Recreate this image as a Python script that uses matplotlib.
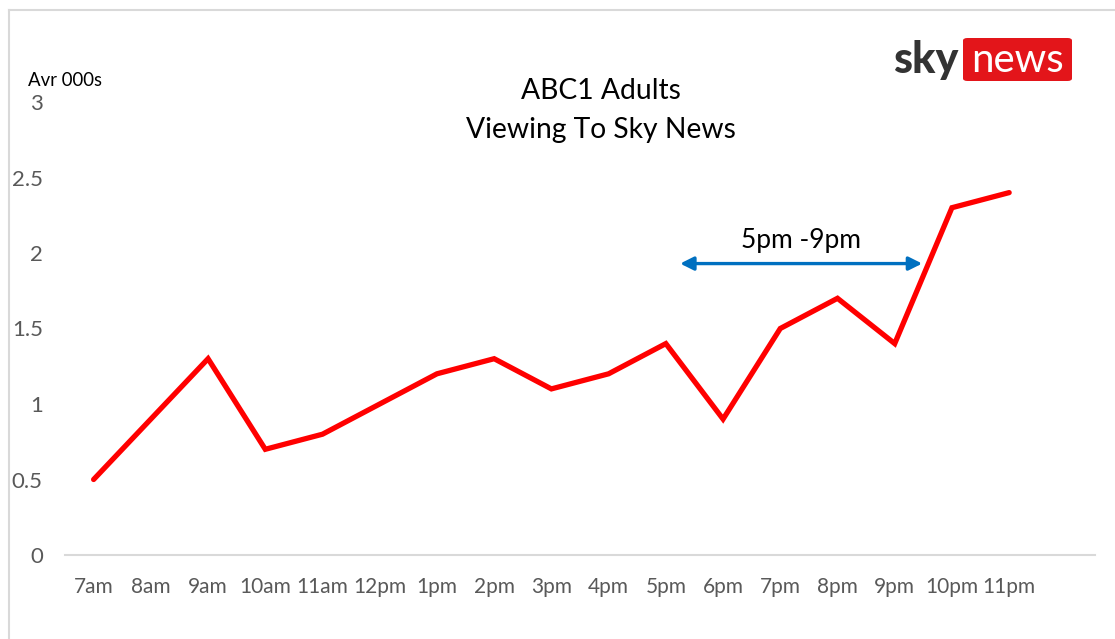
import matplotlib
matplotlib.use("Agg")
import matplotlib.pyplot as plt
from matplotlib.patches import FancyBboxPatch
from matplotlib.lines import Line2D

hours = ["7am", "8am", "9am", "10am", "11am", "12pm", "1pm", "2pm", "3pm",
         "4pm", "5pm", "6pm", "7pm", "8pm", "9pm", "10pm", "11pm"]
viewers = [0.5, 0.9, 1.3, 0.7, 0.8, 1.0, 1.2, 1.3, 1.1, 1.2, 1.4, 0.9,
           1.5, 1.7, 1.4, 2.3, 2.4]
yticks = [0, 0.5, 1, 1.5, 2, 2.5, 3]
ytick_labels = ["0", "0.5", "1", "1.5", "2", "2.5", "3"]
arrow_start, arrow_end, arrow_level = 10.25, 14.48, 1.93
arrow_label = "5pm -9pm"

FONT = ["Lato", "DejaVu Sans"]
plt.rcParams["font.family"] = FONT

W, H = 1115, 639
fig = plt.figure(figsize=(W / 100, H / 100), dpi=100)
fig.patch.set_facecolor("white")

# outer frame (left and top edges)
fig.add_artist(Line2D([8.5 / W, 8.5 / W], [0, 1 - 9.5 / H], transform=fig.transFigure,
                      color="#D9D9D9", lw=1.5))
fig.add_artist(Line2D([8.5 / W, 1], [1 - 9.5 / H, 1 - 9.5 / H], transform=fig.transFigure,
                      color="#D9D9D9", lw=1.5))

ax = fig.add_axes([65 / W, 1 - 555 / H, (1095 - 65) / W, (555 - 102) / H])
x = list(range(len(hours)))
ax.plot(x, viewers, color="#FF0000", lw=3.8, solid_capstyle="round", solid_joinstyle="miter")
ax.set_xlim(-0.5, 17.5)
ax.set_ylim(0, 3)
ax.set_xticks(x)
ax.set_xticklabels(hours, fontsize=15, color="#595959")
ax.set_yticks(yticks)
ax.set_yticklabels(ytick_labels, fontsize=16, color="#595959")
ax.tick_params(length=0)
ax.tick_params(axis="x", pad=16)
ax.tick_params(axis="y", pad=16)
for s in ["top", "right", "left"]:
    ax.spines[s].set_visible(False)
ax.spines["bottom"].set_color("#D9D9D9")
ax.spines["bottom"].set_linewidth(1.5)

ax.annotate("", xy=(arrow_start, arrow_level), xytext=(arrow_end, arrow_level),
            arrowprops=dict(arrowstyle="<|-|>", color="#0070C0", lw=2.4,
                            mutation_scale=20, shrinkA=0, shrinkB=0))
ax.text((arrow_start + arrow_end) / 2, arrow_level + 0.07, arrow_label, ha="center",
        va="bottom", fontsize=19, color="black")

fig.text(601 / W, 1 - 91 / H, "ABC1 Adults", ha="center", va="center", fontsize=20.3)
fig.text(601 / W, 1 - 130 / H, "Viewing To Sky News", ha="center", va="center", fontsize=20.3)
fig.text(28 / W, 1 - 80 / H, "Avr 000s", ha="left", va="center", fontsize=13.4)

# logo
fig.text(958 / W, 1 - 60 / H, "sky", ha="right", va="center", fontsize=31,
         fontweight="black", color="#333333")
box = FancyBboxPatch((963 / W, 1 - 81 / H), (1072 - 963) / W, (81 - 38) / H,
                     boxstyle="round,pad=0,rounding_size=0.004", transform=fig.transFigure,
                     facecolor="#E3151A", edgecolor="none")
fig.add_artist(box)
fig.text(1018 / W, 1 - 61 / H, "news", ha="center", va="center", fontsize=29,
         color="white")

fig.savefig("out.png", dpi=100)
